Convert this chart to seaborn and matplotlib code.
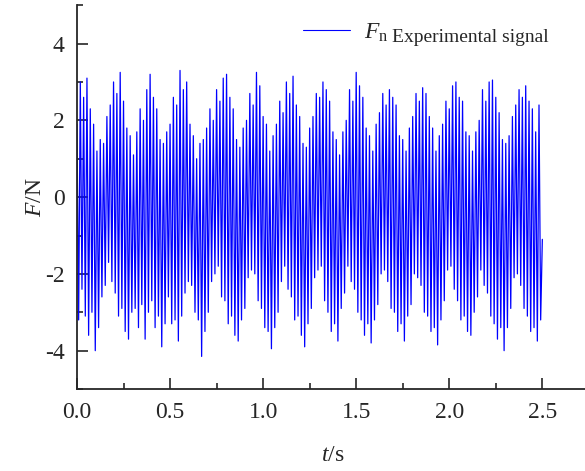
import numpy as np
import pandas as pd
import matplotlib
matplotlib.use("Agg")
import matplotlib.pyplot as plt
import seaborn as sns

tops = [1.9, 3.0, 2.6, 3.1, 2.3, 1.9, 1.2, 1.5, 1.4, 2.1,
        2.4, 3.0, 2.7, 3.25, 2.5, 1.8, 1.6, 1.1, 1.7, 2.3,
        2.0, 2.8, 3.2, 2.6, 2.3, 1.5, 1.4, 1.7, 1.9, 2.6,
        2.4, 3.3, 2.8, 3.0, 1.9, 1.6, 1.0, 1.4, 1.5, 1.8,
        2.3, 2.0, 2.8, 2.5, 3.1, 3.2, 2.6, 2.3, 1.5, 1.3,
        1.8, 2.0, 2.7, 2.4, 3.25, 2.9, 2.1, 1.9, 1.2, 1.6,
        1.9, 2.5, 2.2, 3.0, 2.7, 3.15, 2.4, 2.1, 1.4, 1.3,
        1.8, 2.1, 2.7, 2.6, 3.0, 2.8, 2.5, 1.7, 1.5, 1.1,
        1.7, 2.0, 2.8, 2.5, 3.25, 2.9, 2.6, 1.8, 1.6, 1.2,
        1.9, 2.2, 2.7, 2.4, 2.8, 2.6, 2.4, 1.6, 1.5, 1.2,
        1.8, 2.1, 2.7, 2.5, 2.85, 2.7, 2.1, 1.8, 1.2, 1.6,
        1.9, 2.5, 2.3, 2.9, 3.0, 2.6, 2.5, 1.7, 1.6, 1.2,
        1.7, 2.0, 2.8, 2.5, 3.0, 3.05, 2.6, 2.2, 1.5, 1.4,
        1.6, 2.1, 2.4, 2.8, 2.6, 2.9, 2.5, 2.3, 1.7, 2.4]
bottoms = [-3.2, -2.4, -3.1, -3.6, -3.0, -4.0, -3.4, -2.6, -2.3, -1.7,
           -2.2, -2.5, -3.1, -2.9, -3.5, -3.7, -3.0, -2.9, -3.4, -2.8,
           -3.7, -3.0, -2.7, -3.4, -3.1, -3.9, -3.3, -2.6, -3.3, -3.2,
           -3.75, -3.1, -2.5, -2.2, -2.3, -3.0, -3.2, -4.15, -3.5, -3.0,
           -2.2, -2.0, -1.8, -2.6, -2.7, -3.3, -3.1, -3.6, -3.75, -3.2,
           -2.9, -2.1, -1.9, -2.0, -2.7, -2.9, -3.4, -3.5, -3.95, -3.4,
           -3.0, -2.2, -1.8, -2.4, -2.6, -3.2, -3.1, -3.6, -3.9, -3.3,
           -2.9, -2.1, -1.9, -1.8, -2.7, -3.0, -3.5, -3.3, -3.75, -2.9,
           -2.5, -1.8, -2.2, -2.4, -3.0, -3.2, -3.6, -3.3, -3.8, -3.2,
           -2.8, -2.0, -1.9, -2.2, -2.9, -3.0, -3.5, -3.3, -3.75, -3.1,
           -2.8, -2.0, -2.1, -2.3, -3.0, -3.1, -3.5, -3.4, -3.85, -3.2,
           -2.7, -1.9, -1.8, -2.4, -2.7, -3.2, -3.1, -3.5, -3.6, -3.0,
           -2.6, -1.9, -2.3, -2.5, -3.1, -3.3, -3.7, -3.4, -4.0, -3.4,
           -2.9, -2.1, -2.0, -2.3, -2.9, -3.1, -3.5, -3.4, -3.75, -3.2]
last_value = -1.1
t_end = 2.5

force = []
for a, b in zip(tops, bottoms):
    force += [a, b]
force.append(last_value)
t = np.linspace(0, t_end, len(force))
df = pd.DataFrame({"t": t, "F": force})

sns.set_style("ticks")
plt.rcParams["font.family"] = ["Liberation Serif", "DejaVu Serif"]
plt.rcParams["mathtext.fontset"] = "custom"
plt.rcParams["mathtext.rm"] = "Liberation Serif"
plt.rcParams["mathtext.it"] = "Liberation Serif:italic"
plt.rcParams["axes.unicode_minus"] = False

fig = plt.figure(figsize=(5.85, 4.71), dpi=100)
ax = fig.add_axes([0.1316, 0.174, 0.875, 0.815])

sns.lineplot(data=df, x="t", y="F", ax=ax, color="#0000ff", lw=0.9,
             estimator=None, sort=False, label=r"$F_{\rm n}$")

ax.set_xlim(0, 2.75)
ax.set_ylim(-5, 5)
ax.set_xticks([0, 0.5, 1.0, 1.5, 2.0, 2.5])
ax.set_xticks(np.arange(0.25, 2.76, 0.5), minor=True)
ax.set_yticks([-4, -2, 0, 2, 4])
ax.set_yticks([-5, -3, -1, 1, 3, 5], minor=True)
ax.xaxis.set_major_formatter(matplotlib.ticker.FormatStrFormatter("%.1f"))
ax.tick_params(which="major", direction="in", length=8, width=1.2, labelsize=17, pad=9)
ax.tick_params(which="minor", direction="in", length=4, width=1.2)
for s in ["left", "bottom"]:
    ax.spines[s].set_linewidth(1.3)
ax.spines["top"].set_visible(False)
ax.spines["right"].set_visible(False)

ax.set_xlabel(r"$t$/s", fontsize=17, labelpad=16)
ax.set_ylabel(r"$F$/N", fontsize=17, labelpad=-1)

leg = ax.legend(loc="upper left", bbox_to_anchor=(0.40, 1.013), frameon=False,
                fontsize=17, handlelength=2.0, handletextpad=0.6)
for h in leg.get_lines():
    h.set_linewidth(0.8)
ax.text(0.615, 0.904, "Experimental signal", transform=ax.transAxes,
        fontsize=14, va="baseline", ha="left")

fig.savefig("out.png", dpi=100)
